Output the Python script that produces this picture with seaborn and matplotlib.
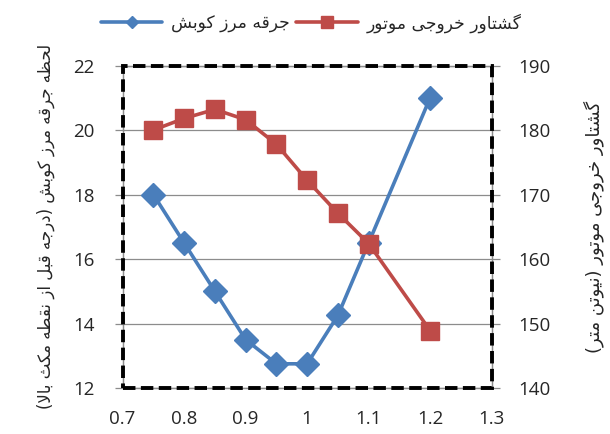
import numpy as np
import pandas as pd
import seaborn as sns
import matplotlib
matplotlib.use("Agg")
import matplotlib.pyplot as plt
from matplotlib.patches import Rectangle
from matplotlib.lines import Line2D

# ---------------- data ----------------
x_lambda = [0.75, 0.8, 0.85, 0.9, 0.95, 1.0, 1.05, 1.1, 1.2]
knock_spark = [18.0, 16.5, 15.0, 13.5, 12.75, 12.75, 14.25, 16.5, 21.0]
torque = [180.0, 181.8, 183.2, 181.6, 177.8, 172.2, 167.1, 162.4, 148.9]

label_spark = "جرقه مرز کوبش"
label_torque = "گشتاور خروجی موتور"
ylabel_left = "لحظه جرقه مرز کوبش (درجه قبل از نقطه مکث بالا)"
ylabel_right = "گشتاور خروجی موتور (نیوتن متر)"
xticks = [0.7, 0.8, 0.9, 1.0, 1.1, 1.2, 1.3]
xticklabels = ["0.7", "0.8", "0.9", "1", "1.1", "1.2", "1.3"]
yticks_left = [12, 14, 16, 18, 20, 22]
yticks_right = [140, 150, 160, 170, 180, 190]

# ---------------- minimal Arabic/Persian shaping ----------------
FORMS = {
    '\u0627': ('\uFE8D', '\uFE8E', None, None),
    '\u0628': ('\uFE8F', '\uFE90', '\uFE91', '\uFE92'),
    '\u062A': ('\uFE95', '\uFE96', '\uFE97', '\uFE98'),
    '\u062B': ('\uFE99', '\uFE9A', '\uFE9B', '\uFE9C'),
    '\u062C': ('\uFE9D', '\uFE9E', '\uFE9F', '\uFEA0'),
    '\u062D': ('\uFEA1', '\uFEA2', '\uFEA3', '\uFEA4'),
    '\u062E': ('\uFEA5', '\uFEA6', '\uFEA7', '\uFEA8'),
    '\u062F': ('\uFEA9', '\uFEAA', None, None),
    '\u0631': ('\uFEAD', '\uFEAE', None, None),
    '\u0632': ('\uFEAF', '\uFEB0', None, None),
    '\u0634': ('\uFEB5', '\uFEB6', '\uFEB7', '\uFEB8'),
    '\u0637': ('\uFEC1', '\uFEC2', '\uFEC3', '\uFEC4'),
    '\u0638': ('\uFEC5', '\uFEC6', '\uFEC7', '\uFEC8'),
    '\u0642': ('\uFED5', '\uFED6', '\uFED7', '\uFED8'),
    '\u0644': ('\uFEDD', '\uFEDE', '\uFEDF', '\uFEE0'),
    '\u0645': ('\uFEE1', '\uFEE2', '\uFEE3', '\uFEE4'),
    '\u0646': ('\uFEE5', '\uFEE6', '\uFEE7', '\uFEE8'),
    '\u0647': ('\uFEE9', '\uFEEA', '\uFEEB', '\uFEEC'),
    '\u0648': ('\uFEED', '\uFEEE', None, None),
    '\u06A9': ('\uFB8E', '\uFB8F', '\uFB90', '\uFB91'),
    '\u06AF': ('\uFB92', '\uFB93', '\uFB94', '\uFB95'),
    '\u06CC': ('\uFBFC', '\uFBFD', '\uFBFE', '\uFBFF'),
}


def shape(text):
    chars = list(text)
    n = len(chars)
    res = []
    i = 0
    while i < n:
        c = chars[i]
        if c not in FORMS:
            res.append(c)
            i += 1
            continue
        prev = chars[i - 1] if i > 0 else None
        connect_prev = prev in FORMS and FORMS[prev][2] is not None
        if c == '\u0644' and i + 1 < n and chars[i + 1] == '\u0627':
            res.append('\uFEFC' if connect_prev else '\uFEFB')
            i += 2
            continue
        nxt = chars[i + 1] if i + 1 < n else None
        connect_next = FORMS[c][2] is not None and nxt in FORMS
        iso, fin, ini, med = FORMS[c]
        if connect_prev and connect_next:
            res.append(med)
        elif connect_prev:
            res.append(fin)
        elif connect_next:
            res.append(ini)
        else:
            res.append(iso)
        i += 1
    vis = ''.join(reversed(res))
    return vis.translate(str.maketrans('()', ')('))


# ---------------- style ----------------
sns.set_style("white")
plt.rcParams['font.family'] = ['Open Sans', 'DejaVu Sans']
AR = ['DejaVu Sans']

blue = "#4A7EBB"
red = "#BE4B48"
grid_gray = "#8C8C8C"
txt = "#262626"

fig = plt.figure(figsize=(6.1, 4.34), dpi=100)
ax = fig.add_axes([0.201, 0.106, 0.605, 0.743])
ax2 = ax.twinx()

df = pd.DataFrame({"x": x_lambda, "spark": knock_spark, "torque": torque})

sns.lineplot(data=df, x="x", y="spark", ax=ax, color=blue, linewidth=2.6,
             marker="D", markersize=12, markeredgecolor=blue, markeredgewidth=1,
             zorder=3)
sns.lineplot(data=df, x="x", y="torque", ax=ax2, color=red, linewidth=2.6,
             marker="s", markersize=13.5, markeredgecolor=red, markeredgewidth=1,
             zorder=3)

ax.set_xlim(0.7, 1.3)
ax.set_ylim(12, 22)
ax2.set_ylim(140, 190)
ax.set_xticks(xticks)
ax.set_xticklabels(xticklabels)
ax.set_yticks(yticks_left)
ax2.set_yticks(yticks_right)

ax.yaxis.grid(True, color=grid_gray, linewidth=0.9)
ax.xaxis.grid(False)
ax2.grid(False)
ax.set_axisbelow(True)

for a in (ax, ax2):
    for s in a.spines.values():
        s.set_color(grid_gray)
        s.set_linewidth(0.9)
    a.tick_params(axis='both', which='major', labelsize=13.5, colors=grid_gray,
                  labelcolor=txt, width=0.9, direction='out')
    a.set_xlabel("")
    a.set_ylabel("")

ax.tick_params(axis='y', length=6, pad=14)
ax2.tick_params(axis='y', length=6, pad=13)
ax.tick_params(axis='x', length=4, pad=12)

ax.set_ylabel(shape(ylabel_left), family=AR, fontsize=12, color=txt,
              rotation=90, labelpad=13)
ax2.set_ylabel(shape(ylabel_right), family=AR, fontsize=13, color=txt,
               rotation=90, labelpad=24)

# dashed plot-area border
border = Rectangle((0, 0), 1, 1, transform=ax2.transAxes, fill=False,
                   edgecolor="black", linewidth=2.8,
                   linestyle=(0, (3.2, 1.4)), clip_on=False, zorder=10)
ax2.add_patch(border)

# legend
h_spark = Line2D([], [], color=blue, linewidth=2.6, marker="D", markersize=6,
                 markeredgecolor=blue)
h_torque = Line2D([], [], color=red, linewidth=2.6, marker="s", markersize=9,
                  markeredgecolor=red)
fig.legend(handles=[h_spark, h_torque],
           labels=[shape(label_spark), shape(label_torque)],
           loc="upper center", bbox_to_anchor=(0.51, 1.005), ncol=2,
           frameon=False, markerfirst=True, handlelength=3.6,
           columnspacing=0.4, handletextpad=0.5,
           prop={'family': AR, 'size': 12.3})

fig.savefig("out.png", dpi=100)
